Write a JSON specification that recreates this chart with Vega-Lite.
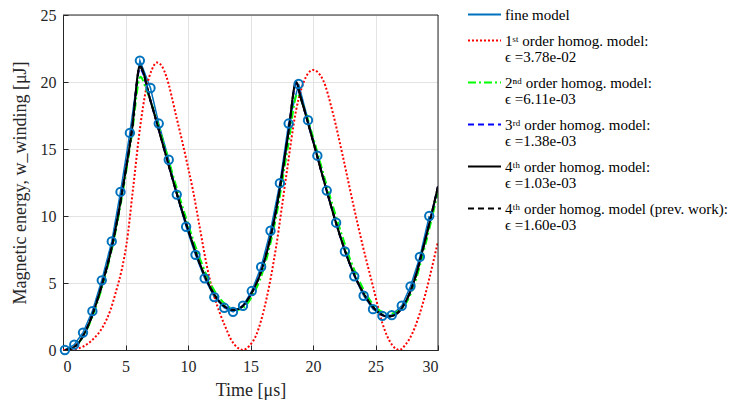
{
  "$schema": "https://vega.github.io/schema/vega-lite/v6.json",
  "width": 375,
  "height": 335,
  "autosize": {"type": "none"},
  "padding": {"left": 63, "top": 15, "right": 312, "bottom": 55},
  "background": "white",
  "config": {
    "font": "Liberation Serif",
    "view": {"stroke": "#262626", "strokeWidth": 1},
    "axis": {
      "grid": true,
      "gridColor": "#e3e3e3",
      "gridWidth": 1,
      "domainColor": "#262626",
      "tickColor": "#262626",
      "tickSize": -5,
      "labelFont": "Liberation Serif",
      "labelFontSize": 16,
      "labelColor": "#262626",
      "titleFont": "Liberation Serif",
      "titleFontSize": 18,
      "titleFontWeight": "normal",
      "titleColor": "#262626"
    },
    "legend": {
      "labelFont": "Liberation Serif",
      "labelFontSize": 15,
      "labelColor": "#000000",
      "symbolType": "stroke",
      "symbolSize": 1089,
      "symbolStrokeWidth": 2,
      "rowPadding": 0,
      "padding": 0,
      "labelOffset": 3,
      "labelLimit": 400
    }
  },
  "datasets": {
    "curves": [
      {"s": "fine", "t": 0.15, "y": 0},
      {"s": "fine", "t": 0.9, "y": 0.4},
      {"s": "fine", "t": 1.6, "y": 1.3},
      {"s": "fine", "t": 2.35, "y": 2.9},
      {"s": "fine", "t": 3.1, "y": 5.2},
      {"s": "fine", "t": 3.9, "y": 8.1},
      {"s": "fine", "t": 4.6, "y": 11.8},
      {"s": "fine", "t": 5.35, "y": 16.2},
      {"s": "fine", "t": 6.15, "y": 21.6},
      {"s": "fine", "t": 7.0, "y": 19.55},
      {"s": "fine", "t": 7.66, "y": 16.9},
      {"s": "fine", "t": 8.46, "y": 14.2},
      {"s": "fine", "t": 9.1, "y": 11.6},
      {"s": "fine", "t": 9.85, "y": 9.2},
      {"s": "fine", "t": 10.6, "y": 7.1},
      {"s": "fine", "t": 11.33, "y": 5.35},
      {"s": "fine", "t": 12.1, "y": 3.95},
      {"s": "fine", "t": 12.9, "y": 3.15},
      {"s": "fine", "t": 13.6, "y": 2.85},
      {"s": "fine", "t": 14.4, "y": 3.3},
      {"s": "fine", "t": 15.1, "y": 4.4},
      {"s": "fine", "t": 15.85, "y": 6.2},
      {"s": "fine", "t": 16.6, "y": 8.9},
      {"s": "fine", "t": 17.35, "y": 12.45},
      {"s": "fine", "t": 18.05, "y": 16.9},
      {"s": "fine", "t": 18.85, "y": 19.85},
      {"s": "fine", "t": 19.6, "y": 17.15},
      {"s": "fine", "t": 20.35, "y": 14.5},
      {"s": "fine", "t": 21.1, "y": 11.9},
      {"s": "fine", "t": 21.85, "y": 9.5},
      {"s": "fine", "t": 22.55, "y": 7.35},
      {"s": "fine", "t": 23.3, "y": 5.5},
      {"s": "fine", "t": 24.05, "y": 4.05},
      {"s": "fine", "t": 24.8, "y": 3.05},
      {"s": "fine", "t": 25.55, "y": 2.55},
      {"s": "fine", "t": 26.3, "y": 2.6},
      {"s": "fine", "t": 27.1, "y": 3.3},
      {"s": "fine", "t": 27.8, "y": 4.75},
      {"s": "fine", "t": 28.55, "y": 6.95},
      {"s": "fine", "t": 29.3, "y": 10.0},

      {"s": "o1", "t": 0, "y": 0},
      {"s": "o1", "t": 0.8, "y": 0.05},
      {"s": "o1", "t": 1.6, "y": 0.25},
      {"s": "o1", "t": 2.4, "y": 0.8},
      {"s": "o1", "t": 3.2, "y": 1.75},
      {"s": "o1", "t": 3.8, "y": 3.0},
      {"s": "o1", "t": 4.28, "y": 4.5},
      {"s": "o1", "t": 4.7, "y": 6.0},
      {"s": "o1", "t": 5.08, "y": 7.9},
      {"s": "o1", "t": 5.6, "y": 12.0},
      {"s": "o1", "t": 6.15, "y": 16.5},
      {"s": "o1", "t": 6.68, "y": 19.6},
      {"s": "o1", "t": 7.1, "y": 20.9},
      {"s": "o1", "t": 7.5, "y": 21.45},
      {"s": "o1", "t": 7.9, "y": 21.2},
      {"s": "o1", "t": 8.27, "y": 20.4},
      {"s": "o1", "t": 9.07, "y": 17.4},
      {"s": "o1", "t": 9.87, "y": 14.2},
      {"s": "o1", "t": 10.4, "y": 11.9},
      {"s": "o1", "t": 10.93, "y": 9.2},
      {"s": "o1", "t": 11.47, "y": 6.45},
      {"s": "o1", "t": 12.1, "y": 4.0},
      {"s": "o1", "t": 12.53, "y": 2.8},
      {"s": "o1", "t": 13.0, "y": 1.7},
      {"s": "o1", "t": 13.46, "y": 0.75},
      {"s": "o1", "t": 14.0, "y": 0.15},
      {"s": "o1", "t": 14.4, "y": 0},
      {"s": "o1", "t": 14.9, "y": 0.3},
      {"s": "o1", "t": 15.45, "y": 1.1},
      {"s": "o1", "t": 16.25, "y": 3.7},
      {"s": "o1", "t": 17.05, "y": 7.7},
      {"s": "o1", "t": 17.85, "y": 12.95},
      {"s": "o1", "t": 18.65, "y": 17.9},
      {"s": "o1", "t": 19.45, "y": 20.4},
      {"s": "o1", "t": 20.0, "y": 20.9},
      {"s": "o1", "t": 20.8, "y": 20.15},
      {"s": "o1", "t": 21.6, "y": 17.65},
      {"s": "o1", "t": 22.4, "y": 14.4},
      {"s": "o1", "t": 23.2, "y": 10.95},
      {"s": "o1", "t": 24.0, "y": 7.7},
      {"s": "o1", "t": 24.8, "y": 4.75},
      {"s": "o1", "t": 25.55, "y": 2.0},
      {"s": "o1", "t": 26.35, "y": 0.35},
      {"s": "o1", "t": 26.9, "y": 0},
      {"s": "o1", "t": 27.4, "y": 0.4},
      {"s": "o1", "t": 27.95, "y": 1.25},
      {"s": "o1", "t": 28.5, "y": 2.6},
      {"s": "o1", "t": 29.0, "y": 4.2},
      {"s": "o1", "t": 29.5, "y": 6.1},
      {"s": "o1", "t": 30.0, "y": 8.1},

      {"s": "o2", "t": 0.2, "y": 0},
      {"s": "o2", "t": 1, "y": 0.3},
      {"s": "o2", "t": 2, "y": 1.7},
      {"s": "o2", "t": 3, "y": 4.3},
      {"s": "o2", "t": 4, "y": 7.9},
      {"s": "o2", "t": 5, "y": 13.0},
      {"s": "o2", "t": 5.5, "y": 16.0},
      {"s": "o2", "t": 6.2, "y": 20.4},
      {"s": "o2", "t": 6.6, "y": 19.6},
      {"s": "o2", "t": 7, "y": 18.6},
      {"s": "o2", "t": 8, "y": 15.6},
      {"s": "o2", "t": 9, "y": 12.4},
      {"s": "o2", "t": 10, "y": 9.4},
      {"s": "o2", "t": 11, "y": 6.7},
      {"s": "o2", "t": 12, "y": 4.6},
      {"s": "o2", "t": 13, "y": 3.4},
      {"s": "o2", "t": 13.9, "y": 3.0},
      {"s": "o2", "t": 14.5, "y": 3.2},
      {"s": "o2", "t": 15, "y": 3.8},
      {"s": "o2", "t": 16, "y": 5.9},
      {"s": "o2", "t": 17, "y": 9.7},
      {"s": "o2", "t": 18, "y": 15.2},
      {"s": "o2", "t": 18.75, "y": 19.1},
      {"s": "o2", "t": 19.2, "y": 18.3},
      {"s": "o2", "t": 20, "y": 15.9},
      {"s": "o2", "t": 21, "y": 12.6},
      {"s": "o2", "t": 22, "y": 9.5},
      {"s": "o2", "t": 23, "y": 6.7},
      {"s": "o2", "t": 24, "y": 4.6},
      {"s": "o2", "t": 25, "y": 3.2},
      {"s": "o2", "t": 26.1, "y": 2.7},
      {"s": "o2", "t": 27, "y": 3.0},
      {"s": "o2", "t": 28, "y": 4.6},
      {"s": "o2", "t": 29, "y": 7.9},
      {"s": "o2", "t": 30, "y": 11.8},

      {"s": "o3", "t": 0.2, "y": 0},
      {"s": "o3", "t": 1, "y": 0.3},
      {"s": "o3", "t": 2, "y": 1.8},
      {"s": "o3", "t": 3, "y": 4.5},
      {"s": "o3", "t": 4, "y": 8.1},
      {"s": "o3", "t": 5, "y": 13.3},
      {"s": "o3", "t": 5.5, "y": 16.3},
      {"s": "o3", "t": 6.15, "y": 21.0},
      {"s": "o3", "t": 7, "y": 18.6},
      {"s": "o3", "t": 8, "y": 15.3},
      {"s": "o3", "t": 9, "y": 12.0},
      {"s": "o3", "t": 10, "y": 9.0},
      {"s": "o3", "t": 11, "y": 6.3},
      {"s": "o3", "t": 12, "y": 4.3},
      {"s": "o3", "t": 13, "y": 3.2},
      {"s": "o3", "t": 13.6, "y": 3.0},
      {"s": "o3", "t": 14, "y": 3.05},
      {"s": "o3", "t": 14.5, "y": 3.4},
      {"s": "o3", "t": 15, "y": 4.1},
      {"s": "o3", "t": 16, "y": 6.3},
      {"s": "o3", "t": 17, "y": 10.2},
      {"s": "o3", "t": 18, "y": 16.0},
      {"s": "o3", "t": 18.65, "y": 19.9},
      {"s": "o3", "t": 19, "y": 18.9},
      {"s": "o3", "t": 20, "y": 15.6},
      {"s": "o3", "t": 21, "y": 12.2},
      {"s": "o3", "t": 22, "y": 9.0},
      {"s": "o3", "t": 23, "y": 6.3},
      {"s": "o3", "t": 24, "y": 4.3},
      {"s": "o3", "t": 25, "y": 3.0},
      {"s": "o3", "t": 26, "y": 2.5},
      {"s": "o3", "t": 26.5, "y": 2.6},
      {"s": "o3", "t": 27, "y": 3.0},
      {"s": "o3", "t": 28, "y": 4.9},
      {"s": "o3", "t": 29, "y": 8.3},
      {"s": "o3", "t": 30, "y": 12.2},

      {"s": "o4", "t": 0.2, "y": 0},
      {"s": "o4", "t": 1, "y": 0.3},
      {"s": "o4", "t": 2, "y": 1.8},
      {"s": "o4", "t": 3, "y": 4.5},
      {"s": "o4", "t": 4, "y": 8.1},
      {"s": "o4", "t": 5, "y": 13.3},
      {"s": "o4", "t": 5.5, "y": 16.3},
      {"s": "o4", "t": 6.15, "y": 21.2},
      {"s": "o4", "t": 7, "y": 18.6},
      {"s": "o4", "t": 8, "y": 15.3},
      {"s": "o4", "t": 9, "y": 12.0},
      {"s": "o4", "t": 10, "y": 9.0},
      {"s": "o4", "t": 11, "y": 6.3},
      {"s": "o4", "t": 12, "y": 4.3},
      {"s": "o4", "t": 13, "y": 3.2},
      {"s": "o4", "t": 13.6, "y": 3.0},
      {"s": "o4", "t": 14, "y": 3.05},
      {"s": "o4", "t": 14.5, "y": 3.4},
      {"s": "o4", "t": 15, "y": 4.1},
      {"s": "o4", "t": 16, "y": 6.3},
      {"s": "o4", "t": 17, "y": 10.2},
      {"s": "o4", "t": 18, "y": 16.0},
      {"s": "o4", "t": 18.65, "y": 20.0},
      {"s": "o4", "t": 19, "y": 18.9},
      {"s": "o4", "t": 20, "y": 15.6},
      {"s": "o4", "t": 21, "y": 12.2},
      {"s": "o4", "t": 22, "y": 9.0},
      {"s": "o4", "t": 23, "y": 6.3},
      {"s": "o4", "t": 24, "y": 4.3},
      {"s": "o4", "t": 25, "y": 3.0},
      {"s": "o4", "t": 26, "y": 2.5},
      {"s": "o4", "t": 26.5, "y": 2.6},
      {"s": "o4", "t": 27, "y": 3.0},
      {"s": "o4", "t": 28, "y": 4.9},
      {"s": "o4", "t": 29, "y": 8.3},
      {"s": "o4", "t": 30, "y": 12.2},

      {"s": "o4p", "t": 0.2, "y": 0},
      {"s": "o4p", "t": 1, "y": 0.3},
      {"s": "o4p", "t": 2, "y": 1.8},
      {"s": "o4p", "t": 3, "y": 4.5},
      {"s": "o4p", "t": 4, "y": 8.1},
      {"s": "o4p", "t": 5, "y": 13.3},
      {"s": "o4p", "t": 5.5, "y": 16.3},
      {"s": "o4p", "t": 6.15, "y": 21.1},
      {"s": "o4p", "t": 7, "y": 18.6},
      {"s": "o4p", "t": 8, "y": 15.3},
      {"s": "o4p", "t": 9, "y": 12.0},
      {"s": "o4p", "t": 10, "y": 9.0},
      {"s": "o4p", "t": 11, "y": 6.3},
      {"s": "o4p", "t": 12, "y": 4.3},
      {"s": "o4p", "t": 13, "y": 3.2},
      {"s": "o4p", "t": 13.6, "y": 3.0},
      {"s": "o4p", "t": 14, "y": 3.05},
      {"s": "o4p", "t": 14.5, "y": 3.4},
      {"s": "o4p", "t": 15, "y": 4.1},
      {"s": "o4p", "t": 16, "y": 6.3},
      {"s": "o4p", "t": 17, "y": 10.2},
      {"s": "o4p", "t": 18, "y": 16.0},
      {"s": "o4p", "t": 18.65, "y": 19.9},
      {"s": "o4p", "t": 19, "y": 18.9},
      {"s": "o4p", "t": 20, "y": 15.6},
      {"s": "o4p", "t": 21, "y": 12.2},
      {"s": "o4p", "t": 22, "y": 9.0},
      {"s": "o4p", "t": 23, "y": 6.3},
      {"s": "o4p", "t": 24, "y": 4.3},
      {"s": "o4p", "t": 25, "y": 3.0},
      {"s": "o4p", "t": 26, "y": 2.5},
      {"s": "o4p", "t": 26.5, "y": 2.6},
      {"s": "o4p", "t": 27, "y": 3.0},
      {"s": "o4p", "t": 28, "y": 4.9},
      {"s": "o4p", "t": 29, "y": 8.3},
      {"s": "o4p", "t": 30, "y": 12.2}
    ]
  },
  "layer": [
    {
      "data": {"name": "curves"},
      "encoding": {
        "x": {
          "field": "t", "type": "quantitative",
          "scale": {"domain": [0, 30], "nice": false},
          "axis": {"values": [0, 5, 10, 15, 20, 25, 30], "title": "Time [μs]", "labelPadding": 13, "titlePadding": 7}
        },
        "y": {
          "field": "y", "type": "quantitative",
          "scale": {"domain": [0, 25], "nice": false},
          "axis": {"values": [0, 5, 10, 15, 20, 25], "title": "Magnetic energy, w_winding [μJ]", "labelPadding": 12, "titlePadding": 11}
        }
      },
      "layer": [
        {
          "transform": [{"filter": "datum.s == 'fine'"}],
          "mark": {"type": "line", "strokeWidth": 1.5, "clip": true},
          "encoding": {
            "color": {"field": "s", "type": "nominal",
              "scale": {"domain": ["fine", "o1", "o2", "o3", "o4", "o4p"], "range": ["#0072BD", "#FF0000", "#00FF00", "#0000FF", "#000000", "#000000"]},
              "legend": {
                "title": null, "orient": "none", "legendX": 404, "legendY": -18,
                "labelExpr": "datum.value == 'fine' ? 'fine model' : datum.value == 'o1' ? ['1ˢᵗ order homog. model:', 'ϵ =3.78e-02'] : datum.value == 'o2' ? ['2ⁿᵈ order homog. model:', 'ϵ =6.11e-03'] : datum.value == 'o3' ? ['3ʳᵈ order homog. model:', 'ϵ =1.38e-03'] : datum.value == 'o4' ? ['4ᵗʰ order homog. model:', 'ϵ =1.03e-03'] : ['4ᵗʰ order homog. model (prev. work):', 'ϵ =1.60e-03']",
                "encode": {"labels": {"update": {"lineHeight": {"value": 16}}}}
              }
            },
            "strokeDash": {"field": "s", "type": "nominal",
              "scale": {"domain": ["fine", "o1", "o2", "o3", "o4", "o4p"], "range": [[1, 0], [2, 2], [8, 3, 2, 3], [6, 4], [1, 0], [6, 4]]},
              "legend": null
            }
          }
        },
        {
          "transform": [{"filter": "datum.s == 'o1'"}],
          "mark": {"type": "line", "strokeWidth": 2, "interpolate": "monotone", "clip": true},
          "encoding": {
            "color": {"field": "s", "type": "nominal"},
            "strokeDash": {"field": "s", "type": "nominal"}
          }
        },
        {
          "transform": [{"filter": "datum.s == 'o2'"}],
          "mark": {"type": "line", "strokeWidth": 2, "interpolate": "monotone", "clip": true},
          "encoding": {
            "color": {"field": "s", "type": "nominal"},
            "strokeDash": {"field": "s", "type": "nominal"}
          }
        },
        {
          "transform": [{"filter": "datum.s == 'o3'"}],
          "mark": {"type": "line", "strokeWidth": 2, "interpolate": "monotone", "clip": true},
          "encoding": {
            "color": {"field": "s", "type": "nominal"},
            "strokeDash": {"field": "s", "type": "nominal"}
          }
        },
        {
          "transform": [{"filter": "datum.s == 'o4'"}],
          "mark": {"type": "line", "strokeWidth": 2, "interpolate": "monotone", "clip": true},
          "encoding": {
            "color": {"field": "s", "type": "nominal"},
            "strokeDash": {"field": "s", "type": "nominal"}
          }
        },
        {
          "transform": [{"filter": "datum.s == 'o4p'"}],
          "mark": {"type": "line", "strokeWidth": 2, "interpolate": "monotone", "clip": true},
          "encoding": {
            "color": {"field": "s", "type": "nominal"},
            "strokeDash": {"field": "s", "type": "nominal"}
          }
        },
        {
          "transform": [{"filter": "datum.s == 'fine'"}],
          "mark": {"type": "point", "filled": false, "size": 70, "strokeWidth": 2, "color": "#0072BD", "opacity": 1, "clip": false},
          "encoding": {}
        }
      ]
    },
    {
      "data": {"values": [{}]},
      "mark": {"type": "rule", "color": "#262626", "strokeWidth": 1},
      "encoding": {"x": {"datum": 30, "type": "quantitative"}}
    },
    {
      "data": {"values": [{}]},
      "mark": {"type": "rule", "color": "#262626", "strokeWidth": 1},
      "encoding": {"y": {"datum": 25, "type": "quantitative"}}
    }
  ]
}
